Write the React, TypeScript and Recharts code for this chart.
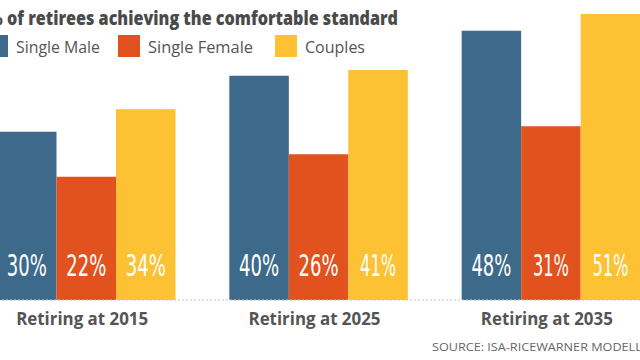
import React from "react";
import { BarChart, Bar, XAxis, YAxis, LabelList } from "recharts";

const categories = ["Retiring at 2015", "Retiring at 2025", "Retiring at 2035"];
const singleMale = [30, 40, 48];
const singleFemale = [22, 26, 31];
const couples = [34, 41, 51];
const seriesNames = ["Single Male", "Single Female", "Couples"];
const seriesKeys = ["male", "female", "couples"];
const seriesColors = ["#3d6a8a", "#e1521e", "#fdc134"];
const titleText = "of retirees achieving the comfortable standard";
const sourceText = "SOURCE: ISA-RICEWARNER MODELLING";

const data = categories.map((c, i) => ({
  cat: c,
  male: singleMale[i],
  female: singleFemale[i],
  couples: couples[i],
}));

const labelWidth = (s: string) =>
  s.split("").reduce((acc, ch) => acc + (ch === "1" ? 9 : ch === "%" ? 14 : 13), 0);

const ValueLabel = (props: any) => {
  const { x, y, width, height, value } = props;
  const s = `${value}%`;
  return (
    <text
      x={x + width / 2}
      y={y + height - 24}
      textAnchor="middle"
      fill="#ffffff"
      fontFamily="'DejaVu Sans Condensed', 'Liberation Sans Narrow', sans-serif"
      fontSize={31}
      textLength={labelWidth(s)}
      lengthAdjust="spacingAndGlyphs"
    >
      {s}
    </text>
  );
};

const CatTick = (props: any) => {
  const { x, y, payload } = props;
  return (
    <text
      x={x - 4}
      y={y + 25}
      textAnchor="middle"
      fill="#555555"
      fontFamily="'Open Sans', sans-serif"
      fontWeight={700}
      fontSize={18}
      textLength={132}
      lengthAdjust="spacingAndGlyphs"
    >
      {payload.value}
    </text>
  );
};

const legendX = [-14, 118, 275];
const legendTextW = [84, 105, 60];

export default function App() {
  return (
    <div
      style={{
        position: "absolute",
        left: 0,
        top: 0,
        width: 640,
        height: 360,
        overflow: "hidden",
        background: "#ffffff",
      }}
    >
      <div style={{ position: "absolute", left: -40, top: 0 }}>
        <BarChart
          width={707}
          height={360}
          data={data}
          margin={{ top: 0, right: 0, left: 10, bottom: 0 }}
          barGap={0}
          barSize={59.5}
        >
          <YAxis hide domain={[0, 53.5]} />
          <XAxis
            dataKey="cat"
            height={60}
            tickLine={false}
            tickSize={0}
            tickMargin={0}
            axisLine={{ stroke: "#c4c4c4", strokeDasharray: "2 2" }}
            tick={<CatTick />}
            interval={0}
          />
          {seriesKeys.map((k, i) => (
            <Bar key={k} dataKey={k} name={seriesNames[i]} fill={seriesColors[i]} isAnimationActive={false}>
              <LabelList dataKey={k} content={<ValueLabel />} />
            </Bar>
          ))}
        </BarChart>
      </div>
      <svg
        width={640}
        height={360}
        style={{ position: "absolute", left: 0, top: 0, pointerEvents: "none" }}
      >
        <text
          x={3}
          y={25}
          textAnchor="end"
          fill="#4a4a4a"
          fontFamily="'Open Sans', sans-serif"
          fontWeight={700}
          fontSize={18}
        >
          %
        </text>
        <text
          x={7}
          y={25}
          fill="#4a4a4a"
          fontFamily="'Open Sans', sans-serif"
          fontWeight={800}
          fontSize={18.5}
          textLength={391}
          lengthAdjust="spacingAndGlyphs"
        >
          {titleText}
        </text>
        {seriesNames.map((n, i) => (
          <g key={n}>
            <rect x={legendX[i]} y={35} width={22} height={22} fill={seriesColors[i]} />
            <text
              x={legendX[i] + 30}
              y={53}
              fill="#555555"
              fontFamily="'Open Sans', sans-serif"
              fontSize={16}
              textLength={legendTextW[i]}
              lengthAdjust="spacingAndGlyphs"
            >
              {n}
            </text>
          </g>
        ))}
        <text
          x={432}
          y={351}
          fill="#666666"
          fontFamily="'Open Sans', sans-serif"
          fontSize={10.5}
          textLength={232}
          lengthAdjust="spacingAndGlyphs"
        >
          {sourceText}
        </text>
      </svg>
    </div>
  );
}
